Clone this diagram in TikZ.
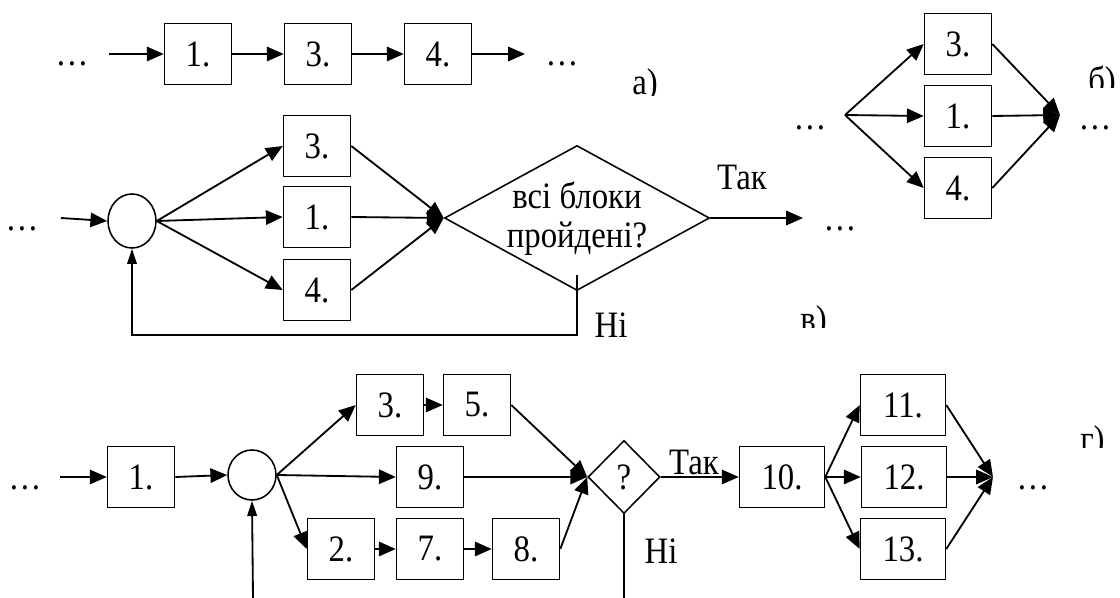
\documentclass[tikz,border=0pt]{standalone}
\usepackage{fontspec}
\setmainfont{Liberation Serif}[FakeStretch=0.88]
\usetikzlibrary{arrows.meta,shapes.geometric}

\tikzset{
  blk/.style={draw, line width=1.1pt, minimum width=1.675cm, minimum height=1.525cm, inner sep=0pt},
  wblk/.style={blk, minimum width=2.125cm},
  jn/.style={draw, ellipse, line width=1.1pt, minimum width=1.2cm, minimum height=1.35cm, inner sep=0pt},
  dmd/.style={draw, diamond, line width=1.1pt, inner sep=0pt},
  arr/.style={line width=1.3pt, -{Triangle[length=0.42cm,width=0.36cm]}},
  larr/.style={line width=1.3pt, -{Triangle[length=0.38cm,width=0.24cm]}},
  ln/.style={line width=1.3pt},
  dots/.style={anchor=base, inner sep=0pt},
  lbl/.style={anchor=north west, inner sep=0pt},
}

\begin{document}
\begin{tikzpicture}[x=0.025cm, y=-0.025cm, font=\fontsize{26.5}{27.7}\selectfont]
        \useasboundingbox (0,0) rectangle (1120,598);

        % а) послідовне виконання
        \node[dots] (a0) at (72,65) {…};
        \coordinate (ain) at (109,54);
        \node[blk] (a1) at (198,54) {1.};
        \node[blk] (a3) at (318,54) {3.};
        \node[blk] (a4) at (438,54) {4.};
        \coordinate (aout) at (525,54);
        \node[dots] (a5) at (562,65) {…};
        \draw[arr] (ain) -- (a1.west);
        \draw[arr] (a1) -- (a3);
        \draw[arr] (a3) -- (a4);
        \draw[arr] (a4.east) -- (aout);
        \begin{scope}
            \clip (620,60) rectangle (680,95);
            \node[lbl] (la) at (632,68) {а)};
        \end{scope}

        % б) паралельне виконання
        \node[dots] (b0) at (810,129) {…};
        \coordinate (bf) at (845,115);
        \node[blk] (b3) at (958,44) {3.};
        \node[blk] (b1) at (958,116) {1.};
        \node[blk] (b4) at (958,188) {4.};
        \coordinate (bm) at (1060,115);
        \node[dots] (b5) at (1095,129) {…};
        \foreach \n in {b3,b1,b4} {
            \draw[arr] (bf) -- (\n.west);
            \draw[arr] (\n.east) -- (bm);
        }
        \begin{scope}
            \clip (1080,60) rectangle (1120,87);
            \node[lbl] (lb) at (1088,66) {б)};
        \end{scope}

        % в) цикл з перевіркою
        \node[dots] (c0) at (22,230) {…};
        \coordinate (cin) at (61,218);
        \node[jn] (cj) at (132,221) {};
        \node[blk] (c3) at (317,146) {3.};
        \node[blk] (c1) at (317,217) {1.};
        \node[blk] (c4) at (317,290) {4.};
        \node[dmd, minimum width=6.625cm, minimum height=3.625cm] (cq) at (577,218) {};
        \node[align=center, inner sep=0pt] (cqt) at (577,219) {всі блоки\\пройдені?};
        \coordinate (cout) at (803,218);
        \node[dots] (c5) at (840,230) {…};
        \node (cyes) at (742,177) {Так};
        \node (cno) at (611,325) {Ні};
        \coordinate (cn1) at (577,275);
        \coordinate (cn2) at (577,335);
        \draw[arr] (cin) -- (cj.west);
        \foreach \n in {c3,c1,c4} {
            \draw[arr] (cj.east) -- (\n.west);
            \draw[arr] (\n.east) -- (cq.west);
        }
        \draw[arr] (cq.east) -- (cout);
        \draw[larr] (cn1) -- (cn2) -| (cj.south);
        \begin{scope}
            \clip (790,295) rectangle (840,327);
            \node[lbl] (lc) at (800,305) {в)};
        \end{scope}

        % г) комбінована схема
        \node[dots] (d0) at (25,489) {…};
        \coordinate (din) at (60,477);
        \node[blk] (d1) at (141,477) {1.};
        \node[jn, minimum height=1.25cm] (dj) at (252,475) {};
        \node[blk] (d3) at (390,405) {3.};
        \node[blk] (d5) at (477,405) {5.};
        \node[blk] (d9) at (430,477) {9.};
        \node[blk] (d2) at (341,549) {2.};
        \node[blk] (d7) at (430,549) {7.};
        \node[blk] (d8) at (526,549) {8.};
        \node[dmd, minimum width=1.8cm, minimum height=1.825cm] (dq) at (624,477) {?};
        \node (dyes) at (694,462) {Так};
        \node (dno) at (661,551) {Ні};
        \node[wblk] (d10) at (782,477) {10.};
        \node[wblk] (d11) at (903,405) {11.};
        \node[wblk] (d12) at (904,477) {12.};
        \node[wblk] (d13) at (903,549) {13.};
        \coordinate (dm) at (993,477);
        \node[dots] (d14) at (1033,489) {…};
        \coordinate (dup) at (253,598);
        \coordinate (ddn) at (624,598);
        \draw[arr] (din) -- (d1.west);
        \draw[arr] (d1.east) -- (dj.west);
        \foreach \n in {d3,d9,d2} {
            \draw[arr] (dj.east) -- (\n.west);
        }
        \draw[arr] (d3) -- (d5);
        \draw[arr] (d2) -- (d7);
        \draw[arr] (d7) -- (d8);
        \foreach \n in {d5,d9,d8} {
            \draw[arr] (\n.east) -- (dq.west);
        }
        \draw[arr] (dq.east) -- (d10.west);
        \foreach \n in {d11,d12,d13} {
            \draw[arr] (d10.east) -- (\n.west);
            \draw[arr] (\n.east) -- (dm);
        }
        \draw[larr] (dup) -- (dj.south);
        \draw[ln] (dq.south) -- (ddn);
        \begin{scope}
            \clip (1070,415) rectangle (1120,447);
            \node[lbl] (ld) at (1080,425) {г)};
        \end{scope}

\end{tikzpicture}
\end{document}
